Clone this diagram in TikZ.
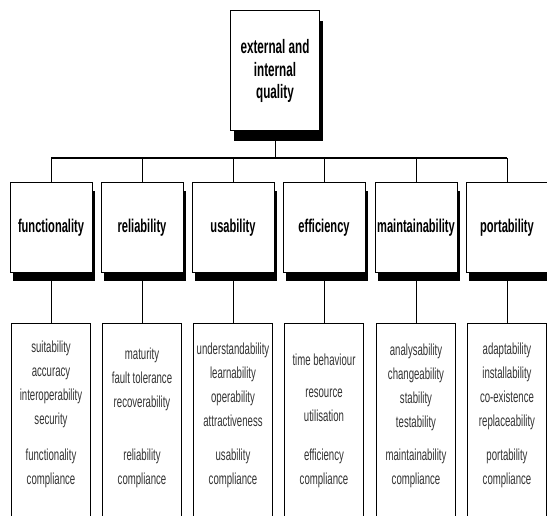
\documentclass[tikz,border=0pt]{standalone}
\usepackage{fontspec}
\setmainfont{Liberation Sans}[FakeStretch=0.6]
\usetikzlibrary{shadows}

\begin{document}
\begin{tikzpicture}[x=1pt,y=-1pt]
    \tikzset{%
      topbox/.style={rectangle, draw, line width=1pt, fill=white, inner
        sep=0pt, minimum width=89pt, minimum height=120pt, align=center,
        font=\fontsize{19.5}{22.5}\selectfont\bfseries,
        drop shadow={shadow xshift=3pt, shadow yshift=-10pt, fill=black, opacity=1}},
      midbox/.style={rectangle, draw, line width=1pt, fill=white, inner
        sep=0pt, minimum width=82pt, minimum height=90pt, align=center,
        font=\fontsize{18.5}{20}\selectfont\bfseries,
        drop shadow={shadow xshift=3pt, shadow yshift=-8pt, fill=black, opacity=1}},
      lowbox/.style={rectangle, draw, line width=1pt, anchor=north, inner
        sep=0pt, minimum width=79pt, minimum height=210pt},
      items/.style={align=center, inner sep=0pt, text=black!80,
        font=\fontsize{16}{24}\selectfont},
      bus/.style={line width=1.5pt},
      link/.style={line width=0.8pt},
    }
    \useasboundingbox (0,0) rectangle (547,516);
    \clip (0,0) rectangle (547,516);

    \node[topbox] (Q) at (275,71) {external and\\internal\\quality};
    \coordinate (Q1) at (275,158);
    \draw [link] (Q) -- (Q1);

    \node[midbox] (F) at (51,228) {functionality};
    \node[lowbox] (F0) at (51,323) {};
    \coordinate (F1) at (51,158);
    \node[items] at (51,384) {suitability\\accuracy\\interoperability\\security};
    \node[items] at (51,468) {functionality\\compliance};
    \draw [link] (F1) -- (F);
    \draw [link] (F) -- (F0);

    \node[midbox] (R) at (142,228) {reliability};
    \node[lowbox] (R0) at (142,323) {};
    \coordinate (R1) at (142,158);
    \node[items] at (142,379) {maturity\\fault tolerance\\recoverability};
    \node[items] at (142,468) {reliability\\compliance};
    \draw [link] (R1) -- (R);
    \draw [link] (R) -- (R0);

    \node[midbox] (U) at (233,228) {usability};
    \node[lowbox] (U0) at (233,323) {};
    \coordinate (U1) at (233,158);
    \node[items] at (233,385) {understandability\\learnability\\operability\\attractiveness};
    \node[items] at (233,468) {usability\\compliance};
    \draw [link] (U1) -- (U);
    \draw [link] (U) -- (U0);

    \node[midbox] (E) at (324,228) {efficiency};
    \node[lowbox] (E0) at (324,323) {};
    \coordinate (E1) at (324,158);
    \node[items] at (324,388) {time behaviour\\[8pt]resource\\utilisation};
    \node[items] at (324,468) {efficiency\\compliance};
    \draw [link] (E1) -- (E);
    \draw [link] (E) -- (E0);

    \node[midbox] (M) at (416,228) {maintainability};
    \node[lowbox] (M0) at (416,323) {};
    \coordinate (M1) at (416,158);
    \node[items] at (416,387) {analysability\\changeability\\stability\\testability};
    \node[items] at (416,468) {maintainability\\compliance};
    \draw [link] (M1) -- (M);
    \draw [link] (M) -- (M0);

    \node[midbox] (P) at (507,228) {portability};
    \node[lowbox] (P0) at (507,323) {};
    \coordinate (P1) at (507,158);
    \node[items] at (507,386) {adaptability\\installability\\co-existence\\replaceability};
    \node[items] at (507,468) {portability\\compliance};
    \draw [link] (P1) -- (P);
    \draw [link] (P) -- (P0);

    \draw [bus] (F1) -- (P1);
  \end{tikzpicture}
\end{document}
